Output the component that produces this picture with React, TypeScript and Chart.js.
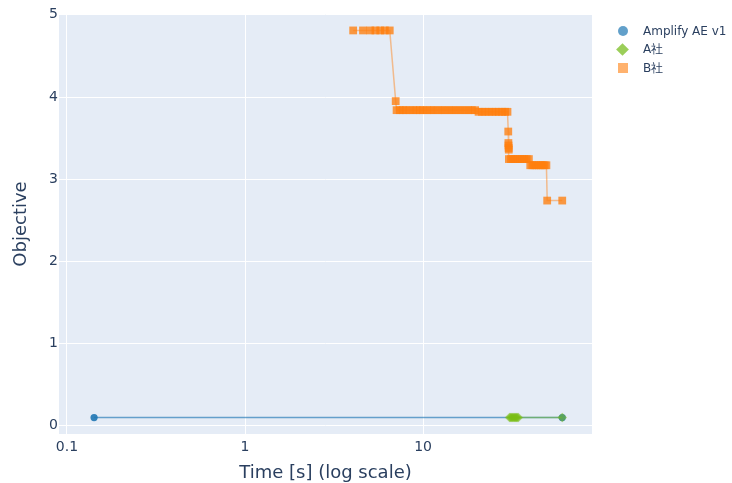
import React, { useEffect, useRef } from "react";
import { Chart, registerables } from "chart.js";

Chart.register(...registerables);

// ---- data ----
const seriesNames = ["Amplify AE v1", "A社", "B社"];

const blueX = [0.142, 60.5];
const blueY = [0.1, 0.1];

const greenX = [30.6, 31.0, 31.4, 31.8, 32.2, 32.6, 33.0, 33.4, 33.8, 34.3, 60.5];
const greenY = [0.1, 0.1, 0.1, 0.1, 0.1, 0.1, 0.1, 0.1, 0.1, 0.1, 0.1];

const orangeX = [
  4.05, 4.6, 5.05, 5.4, 5.75, 6.1, 6.5,
  7.02,
  7.1, 7.4, 7.7, 8.0, 8.4, 8.8, 9.2, 9.6, 10.0, 10.5, 11.0, 11.5, 12.1, 12.7,
  13.3, 14.0, 14.7, 15.4, 16.2, 17.0, 17.9, 18.8, 19.6,
  20.5, 21.4, 22.4, 23.4, 24.5, 25.6, 26.7, 27.8, 28.9, 29.8,
  30.1, 30.15, 30.2, 30.25, 30.3,
  30.35, 31.2, 32.1, 33.0, 34.0, 35.0, 36.0, 37.1, 38.2, 39.3,
  40.0, 41.1, 42.2, 43.4, 44.6, 45.8, 47.0, 48.2, 49.3,
  49.8, 60.5,
];
const orangeY = [
  4.81, 4.81, 4.81, 4.81, 4.81, 4.81, 4.81,
  3.95,
  3.84, 3.84, 3.84, 3.84, 3.84, 3.84, 3.84, 3.84, 3.84, 3.84, 3.84, 3.84, 3.84, 3.84,
  3.84, 3.84, 3.84, 3.84, 3.84, 3.84, 3.84, 3.84, 3.84,
  3.82, 3.82, 3.82, 3.82, 3.82, 3.82, 3.82, 3.82, 3.82, 3.82,
  3.58, 3.44, 3.41, 3.38, 3.36,
  3.245, 3.245, 3.245, 3.245, 3.245, 3.245, 3.245, 3.245, 3.245, 3.245,
  3.17, 3.17, 3.17, 3.17, 3.17, 3.17, 3.17, 3.17, 3.17,
  2.74, 2.74,
];

const xTicks = [0.1, 1, 10];
const yTicks = [0, 1, 2, 3, 4, 5];

const xMin = 0.0902;
const xMax = 88.9;
const yMin = -0.1;
const yMax = 5.01;

const BLUE = "rgba(31,119,180,0.9)";
const BLUE_LINE = "rgba(31,119,180,0.65)";
const GREEN = "rgba(122,190,20,0.55)";
const GREEN_LINE = "rgba(122,190,34,0.5)";
const ORANGE = "rgba(255,127,14,0.78)";
const ORANGE_LINE = "rgba(255,127,14,0.45)";

const TEXT = "#2a3f5f";
const FONT = "'DejaVu Sans', Verdana, sans-serif";

function pts(xs: number[], ys: number[]) {
  return xs.map((x, i) => ({ x, y: ys[i] }));
}

const bgPlugin = {
  id: "plotBg",
  beforeDraw(chart: any) {
    const { ctx, chartArea } = chart;
    ctx.save();
    ctx.fillStyle = "#E5ECF6";
    ctx.fillRect(chartArea.left, chartArea.top, chartArea.right - chartArea.left, chartArea.bottom - chartArea.top);
    ctx.restore();
  },
};

export default function App() {
  const ref = useRef<HTMLCanvasElement>(null);

  useEffect(() => {
    if (!ref.current) return;
    const chart = new Chart(ref.current, {
      type: "scatter",
      data: {
        datasets: [
          {
            label: seriesNames[0],
            data: pts(blueX, blueY),
            showLine: true,
            borderColor: BLUE_LINE,
            borderWidth: 1.5,
            backgroundColor: BLUE,
            pointStyle: "circle",
            pointRadius: 3.6,
            pointBorderWidth: 0,
            order: 3,
          },
          {
            label: seriesNames[1],
            data: pts(greenX, greenY),
            showLine: true,
            borderColor: GREEN_LINE,
            borderWidth: 1.5,
            backgroundColor: GREEN,
            pointStyle: "rectRot",
            pointRadius: 4.8,
            pointBorderWidth: 0,
            order: 2,
          },
          {
            label: seriesNames[2],
            data: pts(orangeX, orangeY),
            showLine: true,
            borderColor: ORANGE_LINE,
            borderWidth: 1.5,
            backgroundColor: ORANGE,
            pointStyle: "rect",
            pointRadius: 5.5,
            pointBorderWidth: 0,
            order: 1,
          },
        ],
      },
      options: {
        responsive: false,
        animation: false,
        layout: { padding: { top: 14, right: 140, left: 0, bottom: 0 } },
        plugins: {
          legend: { display: false },
          tooltip: { enabled: false },
        },
        scales: {
          x: {
            type: "logarithmic",
            min: xMin,
            max: xMax,
            afterBuildTicks: (s: any) => {
              s.ticks = xTicks.map((v) => ({ value: v }));
            },
            afterFit: (s: any) => {
              s.height = 49;
            },
            ticks: {
              color: TEXT,
              font: { family: FONT, size: 14 },
              padding: 5,
              maxRotation: 0,
              autoSkip: false,
              callback: (v: any) => String(v),
            },
            grid: { color: "#ffffff", lineWidth: 1, drawTicks: false },
            border: { display: false },
            title: {
              display: true,
              text: "Time [s] (log scale)",
              color: TEXT,
              font: { family: FONT, size: 18, lineHeight: 1.1 },
              padding: { top: 0, bottom: 0 },
            },
          },
          y: {
            type: "linear",
            min: yMin,
            max: yMax,
            afterBuildTicks: (s: any) => {
              s.ticks = yTicks.map((v) => ({ value: v }));
            },
            afterFit: (s: any) => {
              s.width = 59;
            },
            ticks: {
              color: TEXT,
              font: { family: FONT, size: 14 },
              padding: 1,
              callback: (v: any) => String(v),
            },
            grid: { color: "#ffffff", lineWidth: 1, drawTicks: false },
            border: { display: false },
            title: {
              display: true,
              text: "Objective",
              color: TEXT,
              font: { family: FONT, size: 18, lineHeight: 1.1 },
              padding: { top: 11, bottom: 0 },
            },
          },
        },
      },
      plugins: [bgPlugin],
    });
    return () => chart.destroy();
  }, []);

  const legendText: React.CSSProperties = {
    position: "absolute",
    left: 643,
    fontFamily: FONT,
    fontSize: 12,
    color: TEXT,
    lineHeight: "14px",
    whiteSpace: "nowrap",
  };

  return (
    <div style={{ position: "fixed", left: 0, top: 0, width: 732, height: 483, background: "#ffffff" }}>
      <canvas ref={ref} width={732} height={483} style={{ display: "block" }} />
      <div style={{ position: "absolute", left: 617.5, top: 25.5, width: 10, height: 10, borderRadius: "50%", background: "rgba(31,119,180,0.7)" }} />
      <div style={{ ...legendText, top: 24 }}>{seriesNames[0]}</div>
      <div style={{ position: "absolute", left: 618, top: 44.5, width: 9, height: 9, transform: "rotate(45deg)", background: "rgba(122,190,34,0.75)" }} />
      <div style={{ ...legendText, top: 42 }}>{seriesNames[1]}</div>
      <div style={{ position: "absolute", left: 617.5, top: 63, width: 10, height: 10, background: "rgba(255,127,14,0.6)" }} />
      <div style={{ ...legendText, top: 61 }}>{seriesNames[2]}</div>
    </div>
  );
}
